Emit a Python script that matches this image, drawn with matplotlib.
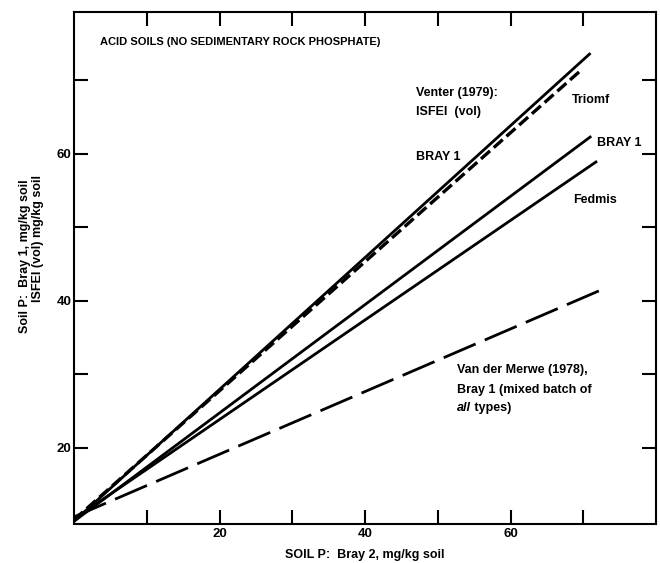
import matplotlib
matplotlib.use("Agg")
import matplotlib.pyplot as plt

plt.rcParams['font.family'] = ['Liberation Sans', 'DejaVu Sans']

# ---- data ----
venter_bray1_x = [0, 71.0]
venter_bray1_y = [10.0, 73.7]
venter_isfei_x = [0, 69.6]
venter_isfei_y = [10.2, 71.3]
triomf_x = [0, 71.1]
triomf_y = [10.0, 62.4]
fedmis_x = [0, 71.9]
fedmis_y = [10.3, 59.0]
vdm_x = [0, 73.2]
vdm_y = [10.6, 41.8]

x_ticks = [10, 20, 30, 40, 50, 60, 70]
x_tick_labels = ['', '20', '', '40', '', '60', '']
y_ticks = [20, 30, 40, 50, 60, 70]
y_tick_labels = ['20', '', '40', '', '60', '']

fig = plt.figure(figsize=(6.6, 5.63), dpi=100)
W, H = 660, 563
ax = fig.add_axes([74 / W, 1 - 523.5 / H, (656 - 74) / W, (523.5 - 12) / H])
ax.set_xlim(0, 80)
ax.set_ylim(9.7, 79.3)

lw = 2.0
ax.plot(venter_bray1_x, venter_bray1_y, color='black', lw=lw, solid_capstyle='butt')
ax.plot(venter_isfei_x, venter_isfei_y, color='black', lw=2.4, dashes=(3.6, 1.5))
ax.plot(triomf_x, triomf_y, color='black', lw=lw, solid_capstyle='butt')
ax.plot(fedmis_x, fedmis_y, color='black', lw=lw, solid_capstyle='butt')
ax.plot(vdm_x, vdm_y, color='black', lw=lw, dashes=(12.5, 3.6))

for s in ax.spines.values():
    s.set_linewidth(1.5)

ax.set_xticks(x_ticks)
ax.set_xticklabels(x_tick_labels)
ax.set_yticks(y_ticks)
ax.set_yticklabels(y_tick_labels)
ax.tick_params(direction='in', length=10, width=1.5, top=True, right=True,
               labelsize=9.5, pad=3)
for lab in ax.get_xticklabels() + ax.get_yticklabels():
    lab.set_fontweight('bold')
ax.tick_params(axis='y', pad=2)

tk = dict(fontsize=9, color='black', fontweight='bold')
ax.text(3.6, 75.2, 'ACID SOILS (NO SEDIMENTARY ROCK PHOSPHATE)', ha='left', va='center',
        fontsize=8, fontweight='bold')
ax.text(47.0, 68.3, 'Venter (1979):', ha='left', va='center', **tk)
ax.text(47.0, 65.7, 'ISFEI  (vol)', ha='left', va='center', **tk)
ax.text(47.0, 59.6, 'BRAY 1', ha='left', va='center', **tk)
ax.text(68.4, 67.3, 'Triomf', ha='left', va='center', **tk)
ax.text(71.9, 61.5, 'BRAY 1', ha='left', va='center', **tk)
ax.text(68.6, 53.7, 'Fedmis', ha='left', va='center', **tk)
ax.text(52.6, 30.6, 'Van der Merwe (1978),', ha='left', va='center', **tk)
ax.text(52.6, 27.9, 'Bray 1 (mixed batch of', ha='left', va='center', **tk)
t_all = ax.text(52.6, 25.4, 'all', ha='left', va='center', fontstyle='italic', **tk)
ax.annotate(' types)', xy=(1, 0.5), xycoords=t_all, ha='left', va='center', **tk)

fig.text(365 / W, 1 - 555 / H, 'SOIL P:  Bray 2, mg/kg soil', ha='center', va='center',
         fontsize=9, fontweight='bold')
fig.text(28 / W, 1 - 333 / H, 'Soil P:  Bray 1, mg/kg soil', rotation=90,
         rotation_mode='anchor', ha='left', va='baseline', fontsize=9, fontweight='bold')
fig.text(41 / W, 1 - 302 / H, 'ISFEI (vol) mg/kg soil', rotation=90,
         rotation_mode='anchor', ha='left', va='baseline', fontsize=9, fontweight='bold')

fig.savefig('out.png', dpi=100)
